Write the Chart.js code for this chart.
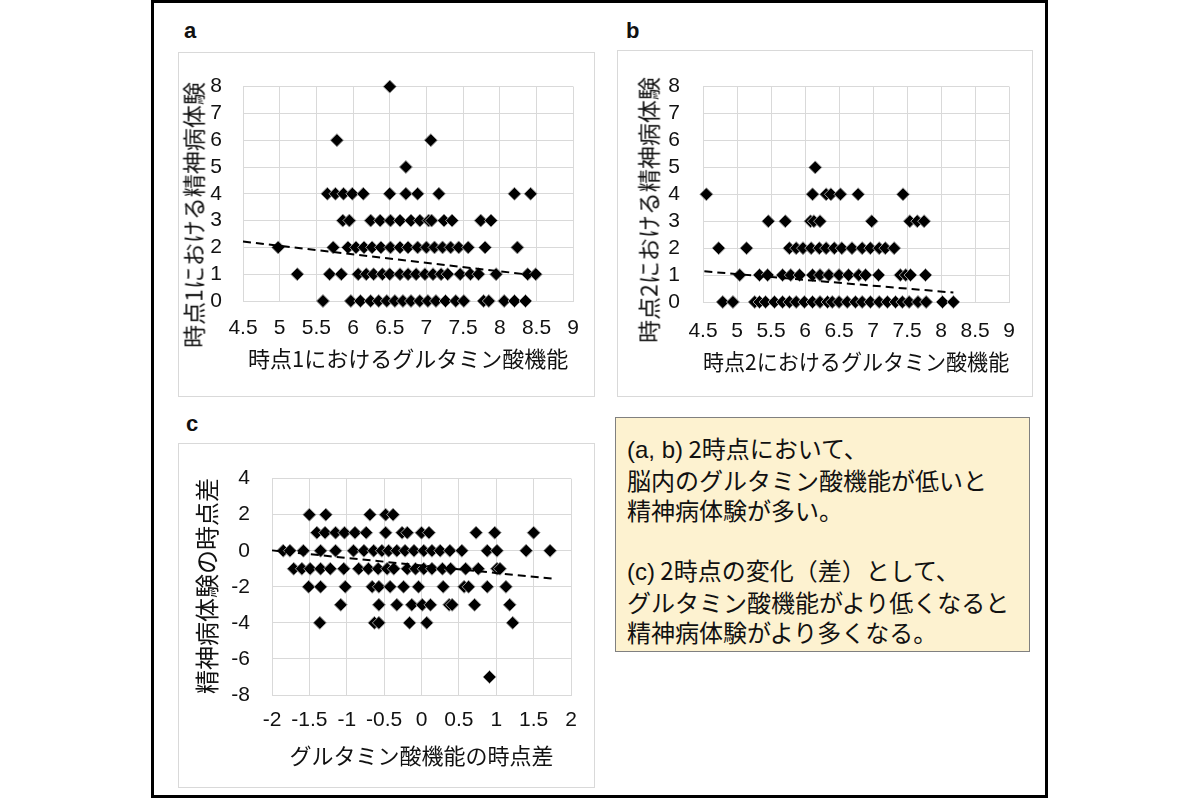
<!DOCTYPE html>
<html>
<head>
<meta charset="utf-8">
<script src="https://cdn.jsdelivr.net/npm/chart.js@4.4.1/dist/chart.umd.min.js"></script>
<style>
  html, body { margin: 0; padding: 0; background: #fff; }
  body { width: 1200px; height: 800px; position: relative; overflow: hidden;
         font-family: "Noto Sans CJK JP", sans-serif; color: #111; }
  #frame { position: absolute; left: 151px; top: 0; width: 897px; height: 798px;
           box-sizing: border-box; border: 3px solid #000; }
  .panel { position: absolute; box-sizing: border-box; border: 1px solid #d9d9d9; background: #fff; }
  .panel .box { position: absolute; left: 0; top: 0; width: 100%; height: 100%; }
  .tag { position: absolute; font: bold 22px "Liberation Sans", Arial, sans-serif; line-height: 1; }
  .ytitle { position: absolute; white-space: nowrap; font-size: 23px; line-height: 1;
            transform: translate(-50%, -50%) rotate(-90deg); }
  #note { position: absolute; left: 615px; top: 417px; width: 415px; height: 235px;
          box-sizing: border-box; border: 1.5px solid #808080; background: #fdf2d0;
          padding: 15px 0 0 11px; font-size: 24px; line-height: 30px; color: #111; }
  #note .lat { font-family: "Liberation Sans", Arial, sans-serif; }
</style>
</head>
<body>
<div id="frame"></div>

<div class="tag" style="left:184px;top:20px;">a</div>
<div class="tag" style="left:626px;top:20px;">b</div>
<div class="tag" style="left:186px;top:413px;">c</div>

<div class="panel" style="left:178px;top:52px;width:417px;height:345px;"><div class="box"><canvas id="ca"></canvas></div></div>
<div class="panel" style="left:617px;top:50px;width:416px;height:347px;"><div class="box"><canvas id="cb"></canvas></div></div>
<div class="panel" style="left:178px;top:443px;width:417px;height:345px;"><div class="box"><canvas id="cc"></canvas></div></div>

<div class="ytitle" style="left:193px;top:215px;">時点1における精神病体験</div>
<div class="ytitle" style="left:648px;top:210px;">時点2における精神病体験</div>
<div class="ytitle" style="left:206px;top:586px;font-size:24px;">精神病体験の時点差</div>

<div id="note"><span class="lat">(a, b)</span> 2時点において、<br>脳内のグルタミン酸機能が低いと<br>精神病体験が多い。<br><br><span class="lat">(c)</span> 2時点の変化（差）として、<br>グルタミン酸機能がより低くなると<br>精神病体験がより多くなる。</div>

<script>
// ---- panel a : 時点1 ----
const aXTicks = [4.5, 5, 5.5, 6, 6.5, 7, 7.5, 8, 8.5, 9];
const aYTicks = [0, 1, 2, 3, 4, 5, 6, 7, 8];
const aRowY   = [8, 6, 5, 4, 3, 2, 1, 0];
const aRowX   = [
  [6.5],
  [5.78, 7.06],
  [6.72],
  [5.65, 5.76, 5.87, 5.99, 6.14, 6.5, 6.72, 6.88, 7.17, 8.2, 8.42],
  [5.86, 5.95, 6.24, 6.37, 6.51, 6.64, 6.79, 6.91, 7.03, 7.07, 7.24, 7.35, 7.74, 7.88],
  [4.98, 5.73, 5.93, 6.04, 6.15, 6.26, 6.38, 6.51, 6.64, 6.75, 6.88, 7.0, 7.11, 7.22, 7.33, 7.44, 7.57, 7.8, 8.24],
  [5.24, 5.68, 5.84, 6.07, 6.18, 6.28, 6.4, 6.5, 6.64, 6.75, 6.86, 6.98, 7.09, 7.2, 7.29, 7.46, 7.6, 7.71, 7.95, 8.38, 8.49],
  [5.59, 5.97, 6.1, 6.24, 6.35, 6.46, 6.57, 6.68, 6.79, 6.91, 7.02, 7.13, 7.26, 7.4, 7.51, 7.78, 7.85, 8.06, 8.2, 8.35]
];
const aTrendX = [4.5, 8.5];
const aTrendY = [2.22, 0.95];

// ---- panel b : 時点2 ----
const bXTicks = [4.5, 5, 5.5, 6, 6.5, 7, 7.5, 8, 8.5, 9];
const bYTicks = [0, 1, 2, 3, 4, 5, 6, 7, 8];
const bRowY   = [5, 4, 3, 2, 1, 0];
const bRowX   = [
  [6.15],
  [4.55, 6.11, 6.31, 6.38, 6.52, 6.78, 7.44],
  [5.46, 5.71, 6.08, 6.13, 6.22, 6.98, 7.54, 7.65, 7.75],
  [4.73, 5.14, 5.77, 5.87, 5.97, 6.09, 6.21, 6.31, 6.43, 6.54, 6.69, 6.84, 6.96, 7.09, 7.18, 7.31],
  [5.04, 5.33, 5.45, 5.67, 5.79, 5.92, 6.11, 6.22, 6.35, 6.5, 6.64, 6.79, 6.89, 7.08, 7.4, 7.48, 7.55, 7.77],
  [4.79, 4.94, 5.26, 5.33, 5.42, 5.55, 5.67, 5.77, 5.87, 5.99, 6.11, 6.22, 6.33, 6.4, 6.5, 6.62, 6.74, 6.84, 6.96, 7.09, 7.21, 7.33, 7.43, 7.53, 7.66, 7.78, 8.02, 8.18]
];
const bTrendX = [4.52, 8.18];
const bTrendY = [1.14, 0.35];

// ---- panel c : 時点差 ----
const cXTicks = [-2, -1.5, -1, -0.5, 0, 0.5, 1, 1.5, 2];
const cYTicks = [-8, -6, -4, -2, 0, 2, 4];
const cRowY   = [2, 1, 0, -1, -2, -3, -4, -7];
const cRowX   = [
  [-1.5, -1.28, -0.69, -0.48, -0.38],
  [-1.4, -1.29, -1.15, -1.03, -0.89, -0.74, -0.48, -0.26, -0.19, 0.0, 0.1, 0.73, 0.98, 1.5],
  [-1.85, -1.76, -1.58, -1.35, -1.15, -0.91, -0.77, -0.64, -0.53, -0.44, -0.33, -0.22, -0.1, 0.03, 0.14, 0.25, 0.38, 0.54, 0.88, 1.01, 1.4, 1.72],
  [-1.71, -1.6, -1.49, -1.35, -1.22, -1.04, -0.84, -0.71, -0.58, -0.46, -0.37, -0.19, -0.08, 0.03, 0.14, 0.28, 0.39, 0.59, 0.76, 1.01, 1.05],
  [-1.51, -1.35, -1.02, -0.66, -0.57, -0.42, -0.24, -0.04, 0.29, 0.57, 0.63, 0.88, 1.13],
  [-1.08, -0.57, -0.33, -0.13, 0.01, 0.12, 0.37, 0.41, 0.71, 1.18],
  [-1.36, -0.63, -0.57, -0.16, 0.07, 1.22],
  [0.91]
];
const cTrendX = [-2, 1.75];
const cTrendY = [0.02, -1.55];

const GRID = '#d9d9d9';
const TICK_FONT = { family: '"Liberation Sans", Arial, sans-serif', size: 21 };
const TITLE_FONT = { family: '"Noto Sans CJK JP", sans-serif', size: 22 };

function toPoints(rowY, rowX) {
  const pts = [];
  rowY.forEach((y, i) => rowX[i].forEach(x => pts.push({ x, y })));
  return pts;
}

function scatterPanel(id, o) {
  const trend = o.trendX.map((x, i) => ({ x, y: o.trendY[i] }));
  return new Chart(document.getElementById(id), {
    type: 'scatter',
    data: {
      datasets: [
        { data: trend, showLine: true, order: 0, pointRadius: 0, clip: false,
          borderColor: '#000', borderWidth: 2, borderDash: [8, 5] },
        { data: toPoints(o.rowY, o.rowX), order: 1, clip: false,
          pointStyle: 'rectRot', pointRadius: 6.5, pointHoverRadius: 6.5,
          backgroundColor: '#000', borderColor: '#9e9e9e', borderWidth: 1 }
      ]
    },
    options: {
      responsive: true, maintainAspectRatio: false, animation: false,
      layout: { padding: o.pad },
      plugins: { legend: { display: false }, tooltip: { enabled: false } },
      scales: {
        x: {
          type: 'linear', min: o.xTicks[0], max: o.xTicks[o.xTicks.length - 1],
          afterBuildTicks: s => { s.ticks = o.xTicks.map(v => ({ value: v })); },
          afterFit: s => { s.height = o.xH; },
          grid: { color: GRID, drawTicks: false },
          border: { color: GRID },
          ticks: { font: TICK_FONT, color: '#111', padding: o.xPad, autoSkip: false,
                   maxRotation: 0, callback: v => String(v) },
          title: { display: true, text: o.xTitle, font: TITLE_FONT, color: '#111',
                   padding: { top: 0, bottom: o.xTitlePad } }
        },
        y: {
          type: 'linear', min: o.yTicks[0], max: o.yTicks[o.yTicks.length - 1],
          afterBuildTicks: s => { s.ticks = o.yTicks.map(v => ({ value: v })); },
          afterFit: s => { s.width = o.yW; },
          grid: { color: GRID, drawTicks: false },
          border: { color: GRID },
          ticks: { font: TICK_FONT, color: '#111', padding: o.yPad, autoSkip: false,
                   callback: v => String(v) }
        }
      }
    }
  });
}

scatterPanel('ca', {
  rowY: aRowY, rowX: aRowX, trendX: aTrendX, trendY: aTrendY,
  xTicks: aXTicks, yTicks: aYTicks, xTitle: '時点1におけるグルタミン酸機能',
  pad: { left: 0, right: 14, top: 22, bottom: 0 }, yW: 64, xH: 95,
  yPad: 21, xPad: 15, xTitlePad: 24
});
scatterPanel('cb', {
  rowY: bRowY, rowX: bRowX, trendX: bTrendX, trendY: bTrendY,
  xTicks: bXTicks, yTicks: bYTicks, xTitle: '時点2におけるグルタミン酸機能',
  pad: { left: 16, right: 21, top: 21, bottom: 0 }, yW: 69, xH: 94,
  yPad: 23, xPad: 17, xTitlePad: 21
});
scatterPanel('cc', {
  rowY: cRowY, rowX: cRowX, trendX: cTrendX, trendY: cTrendY,
  xTicks: cXTicks, yTicks: cYTicks, xTitle: 'グルタミン酸機能の時点差',
  pad: { left: 13, right: 23, top: 20, bottom: 0 }, yW: 80, xH: 92,
  yPad: 22, xPad: 13, xTitlePad: 18
});
</script>
</body>
</html>
